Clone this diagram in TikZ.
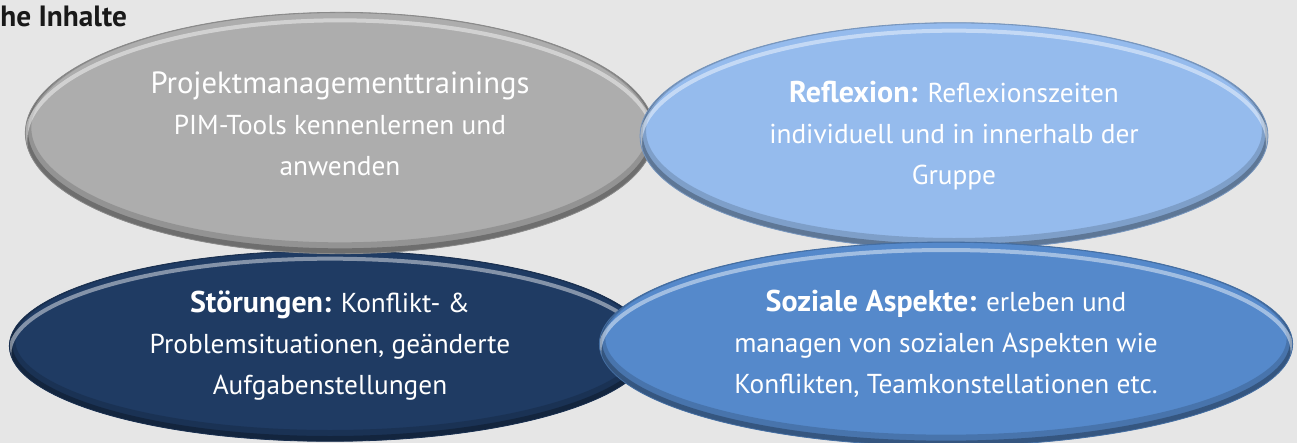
\documentclass[tikz,border=0pt]{standalone}
\usepackage{fontspec}
\setmainfont{PT Sans}
\usetikzlibrary{shapes,calc}
\usepackage{xcolor}
\definecolor{pagegray}{RGB}{230,230,230}
\definecolor{pimgray}{RGB}{173,173,173}
\definecolor{reflblue}{RGB}{149,187,237}
\definecolor{stoernavy}{RGB}{31,59,99}
\definecolor{sozblue}{RGB}{85,137,203}
\newcommand{\headfont}{\fontsize{23}{30.75}\selectfont}
\newcommand{\headbf}{\fontsize{22.5}{30.75}\selectfont\bfseries}
\tikzset{
	bubble/.style={
		ellipse,
		fill=#1,
		draw=#1!80!black,
		line width=0.6pt,
		text=white,
		align=center,
		font=\fontsize{20.5}{30.75}\selectfont,
		path picture={
			\draw[black,opacity=.15,line width=9pt]
				let \p1=($(path picture bounding box.north east)-(path picture bounding box.center)$)
				in ([yshift=4pt]path picture bounding box.center) ellipse ({\x1} and {\y1});
			\draw[black,opacity=.25,line width=4pt]
				let \p1=($(path picture bounding box.north east)-(path picture bounding box.center)$)
				in ([yshift=2pt]path picture bounding box.center) ellipse ({\x1} and {\y1});
			\draw[white,opacity=.45,line width=3pt]
				let \p1=($(path picture bounding box.north east)-(path picture bounding box.center)$)
				in ([yshift=-6pt]path picture bounding box.center) ellipse ({\x1} and {\y1});
		},
	},
	heading/.style={
		font=\fontsize{22}{25}\selectfont\bfseries,
		text=black!90,
	},
}
\begin{document}
\begin{tikzpicture}[x=0.75pt,y=-0.75pt]
	\fill[pagegray] (0,0) rectangle (1297,443);
	\useasboundingbox (0,0) rectangle (1297,443);

	\node [heading,anchor=base west,inner sep=0pt] (title) at (0,26) {he Inhalte};

	% unten links
	\node [
	  bubble=stoernavy,
	  minimum width=481pt,
	  minimum height=143pt
	] (stoer) at (330,346) {{\headbf Störungen:} Konflikt- \&\\Problemsituationen, geänderte\\Aufgabenstellungen};
	% oben links
	\node [
	  bubble=pimgray,
	  minimum width=472pt,
	  minimum height=181pt,
	  text depth=14pt
	] (pim) at (340,133) {{\headfont Projektmanagementtrainings}\\PIM-Tools kennenlernen und\\anwenden};
	% oben rechts
	\node [
	  bubble=reflblue,
	  minimum width=471pt,
	  minimum height=170pt
	] (refl) at (954,136) {{\headbf Reflexion:} Reflexionszeiten\\individuell und in innerhalb der\\Gruppe};
	% unten rechts
	\node [
	  bubble=sozblue,
	  minimum width=520pt,
	  minimum height=153pt
	] (soz) at (946,344) {{\headbf Soziale Aspekte:} erleben und\\managen von sozialen Aspekten wie\\Konflikten, Teamkonstellationen etc.};
\end{tikzpicture}
\end{document}
